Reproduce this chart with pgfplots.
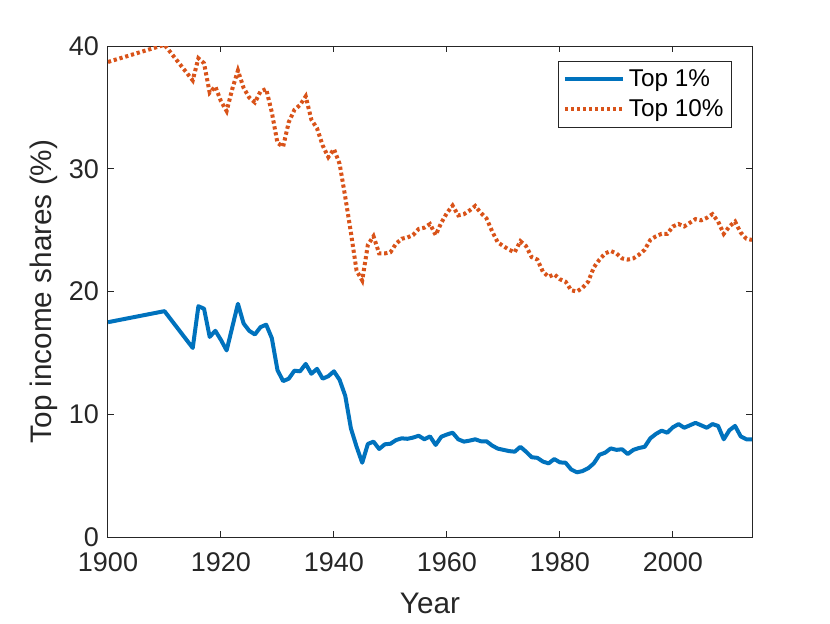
\documentclass[border=0pt]{standalone}
\usepackage{fontspec}
\setmainfont{Liberation Sans}
\usepackage{pgfplots}
\pgfplotsset{compat=1.18}
\definecolor{mblue}{rgb}{0,0.447,0.741}
\definecolor{morange}{rgb}{0.85,0.325,0.098}
\definecolor{axgray}{rgb}{0.15,0.15,0.15}
\begin{document}
\begin{tikzpicture}
\useasboundingbox (-54pt,-43pt) rectangle (361pt,268.5pt);
\begin{axis}[
 at={(0,0)}, anchor=south west,
 scale only axis, width=322pt, height=245.5pt,
 xmin=1900, xmax=2014, ymin=0, ymax=40,
 xtick={1900,1920,...,2000}, ytick={0,10,...,40},
 axis line style={axgray, line width=0.5pt},
 tick style={axgray, line width=0.5pt},
 major tick length=3.2pt,
 tick align=inside,
 ticklabel style={font=\fontsize{13.5}{16}\selectfont, text=axgray},
 xticklabel style={yshift=-4.5pt},
 yticklabel style={xshift=-1pt},
 /pgf/number format/assume math mode=true,
 /pgf/number format/1000 sep={},
 xlabel={Year}, ylabel={Top income shares (\%)},
 label style={font=\fontsize{14.85}{18}\selectfont, text=axgray},
 xlabel style={at={(axis description cs:0.5,-0.1344)}, anchor=center},
 ylabel style={at={(axis description cs:-0.0994,0.5)}, anchor=center, rotate=0},
 legend style={at={(0.969,0.970)}, anchor=north east, draw=axgray, line width=0.5pt,
   font=\fontsize{12.15}{14}\selectfont, inner xsep=2pt, inner ysep=2pt, row sep=1pt},
 legend cell align=left,
 legend image code/.code={\draw[#1] (0pt,0pt) -- (29pt,0pt);},
]
\addplot[mblue, line width=2pt, line join=round] coordinates {
(1900,17.5) (1910,18.4) (1915,15.4) (1916,18.8) (1917,18.6) (1918,16.3) (1919,16.8)
(1920,16.05) (1921,15.2) (1922,17.1) (1923,19.0) (1924,17.4) (1925,16.8) (1926,16.5)
(1927,17.1) (1928,17.3) (1929,16.2) (1930,13.6) (1931,12.7) (1932,12.9) (1933,13.55)
(1934,13.5) (1935,14.1) (1936,13.3) (1937,13.7) (1938,12.9) (1939,13.1) (1940,13.5)
(1941,12.8) (1942,11.5) (1943,8.85) (1944,7.36) (1945,6.05) (1946,7.58) (1947,7.77)
(1948,7.17) (1949,7.55) (1950,7.6) (1951,7.9) (1952,8.04) (1953,8.0) (1954,8.1)
(1955,8.25) (1956,7.96) (1957,8.2) (1958,7.5) (1959,8.17) (1960,8.35) (1961,8.5)
(1962,7.96) (1963,7.77) (1964,7.85) (1965,7.96) (1966,7.8) (1967,7.8) (1968,7.45)
(1969,7.2) (1970,7.1) (1971,7.0) (1972,6.95) (1973,7.35) (1974,6.95) (1975,6.5)
(1976,6.45) (1977,6.14) (1978,6.0) (1979,6.35) (1980,6.08) (1981,6.05) (1982,5.5)
(1983,5.27) (1984,5.37) (1985,5.6) (1986,6.0) (1987,6.7) (1988,6.87) (1989,7.22)
(1990,7.1) (1991,7.15) (1992,6.76) (1993,7.1) (1994,7.25) (1995,7.35) (1996,8.04)
(1997,8.4) (1998,8.66) (1999,8.5) (2000,8.94) (2001,9.2) (2002,8.9) (2003,9.1)
(2004,9.3) (2005,9.1) (2006,8.9) (2007,9.2) (2008,9.05) (2009,7.96) (2010,8.7)
(2011,9.05) (2012,8.2) (2013,7.96) (2014,7.96)
};
\addlegendentry{Top 1\%}
\addplot[morange, line width=2pt, dash pattern=on 1.6pt off 1.4pt] coordinates {
(1900,38.7) (1910,40.1) (1915,37.2) (1916,39.0) (1917,38.6) (1918,36.2) (1919,36.7)
(1920,35.5) (1921,34.7) (1922,36.5) (1923,38.0) (1924,36.6) (1925,35.8) (1926,35.4)
(1927,36.3) (1928,36.5) (1929,34.6) (1930,32.1) (1931,31.8) (1932,33.8) (1933,34.8)
(1934,35.2) (1935,35.9) (1936,34.0) (1937,33.3) (1938,31.9) (1939,30.95) (1940,31.6)
(1941,30.4) (1942,27.7) (1943,24.8) (1944,21.7) (1945,20.9) (1946,23.8) (1947,24.5)
(1948,23.1) (1949,23.1) (1950,23.2) (1951,23.9) (1952,24.3) (1953,24.4) (1954,24.6)
(1955,25.1) (1956,25.2) (1957,25.5) (1958,24.6) (1959,25.6) (1960,26.4) (1961,27.0)
(1962,26.2) (1963,26.3) (1964,26.6) (1965,26.97) (1966,26.4) (1967,25.96) (1968,24.9)
(1969,24.0) (1970,23.7) (1971,23.4) (1972,23.2) (1973,24.1) (1974,23.7) (1975,22.8)
(1976,22.6) (1977,21.6) (1978,21.2) (1979,21.4) (1980,21.0) (1981,20.8) (1982,20.1)
(1983,20.0) (1984,20.3) (1985,20.8) (1986,21.96) (1987,22.6) (1988,23.1) (1989,23.3)
(1990,23.1) (1991,22.7) (1992,22.6) (1993,22.7) (1994,23.0) (1995,23.4) (1996,24.2)
(1997,24.5) (1998,24.7) (1999,24.7) (2000,25.3) (2001,25.5) (2002,25.3) (2003,25.6)
(2004,25.9) (2005,25.8) (2006,26.0) (2007,26.3) (2008,25.7) (2009,24.7) (2010,25.3)
(2011,25.7) (2012,24.8) (2013,24.3) (2014,24.2)
};
\addlegendentry{Top 10\%}
\end{axis}
\end{tikzpicture}
\end{document}
